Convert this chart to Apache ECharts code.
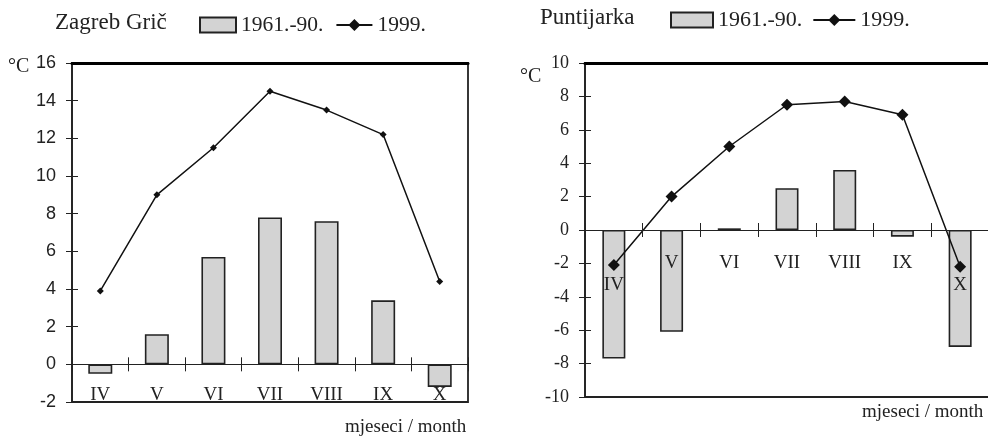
<!DOCTYPE html>
<html>
<head>
<meta charset="utf-8">
<script src="https://cdn.jsdelivr.net/npm/echarts@6/dist/echarts.min.js"></script>
<style>
  html, body { margin: 0; padding: 0; background: #fff; }
  #chart { width: 988px; height: 436px; }
</style>
</head>
<body>
<div id="chart"></div>
<script>
// months (Roman numerals as in the source)
const months = ['IV', 'V', 'VI', 'VII', 'VIII', 'IX', 'X'];

// Zagreb Grič
const gricNormal = [-0.5, 1.6, 5.7, 7.8, 7.6, 3.4, -1.2];   // 1961.-90.
const gric1999 = [3.9, 9.0, 11.5, 14.5, 13.5, 12.2, 4.4];

// Puntijarka
const puntNormal = [-7.7, -6.1, 0.1, 2.5, 3.6, -0.4, -7.0]; // 1961.-90.
const punt1999 = [-2.1, 2.0, 5.0, 7.5, 7.7, 6.9, -2.2];

const SERIF = 'Liberation Serif';
const SANS = 'Liberation Sans';
const INK = '#222';
const BAR_FILL = '#d3d3d3';

const chart = echarts.init(document.getElementById('chart'));

// builds one pair of y axes (outer ticks + labels, inner ticks only)
function yAxes(grid, min, max, font) {
  const base = {
    gridIndex: grid,
    type: 'value',
    position: 'left',
    min: min,
    max: max,
    interval: 2,
    splitLine: { show: false },
  };
  return [
    Object.assign({}, base, {
      axisLine: { show: true, lineStyle: { color: INK, width: 1.5 } },
      axisTick: { show: true, length: 6, lineStyle: { color: INK, width: 1 } },
      axisLabel: { margin: 16, color: INK, fontSize: 18, fontFamily: font },
    }),
    Object.assign({}, base, {
      axisLine: { show: false },
      axisTick: { show: true, inside: true, length: 6, lineStyle: { color: INK, width: 1 } },
      axisLabel: { show: false },
    }),
  ];
}

// x axes: line + ticks on the zero line, labels pulled up from the bottom edge,
// plus a bare top axis acting as the frame's upper edge
function xAxes(grid, margin, lowLabels) {
  const base = {
    gridIndex: grid,
    type: 'category',
    data: months,
    position: 'bottom',
    z: 10,
  };
  return [
    Object.assign({}, base, {
      axisLine: { show: true, onZero: true, lineStyle: { color: INK, width: 1.2 } },
      axisTick: { show: true, length: 7, lineStyle: { color: INK, width: 1 } },
      axisLabel: {
        interval: 0,
        hideOverlap: false,
        margin: margin,
        color: INK,
        fontSize: 19,
        fontFamily: SERIF,
        formatter: (v) => (lowLabels.indexOf(v) >= 0 ? '{low|' + v + '}' : v),
        rich: {
          low: { fontSize: 19, fontFamily: SERIF, color: INK, padding: [22, 0, 0, 0] },
        },
      },
    }),
    Object.assign({}, base, {
      axisLine: { show: false, onZero: true },
      axisTick: { show: true, inside: true, length: 7, lineStyle: { color: INK, width: 1 } },
      axisLabel: { show: false },
    }),
    Object.assign({}, base, {
      position: 'top',
      axisLine: { show: true, onZero: false, lineStyle: { color: '#000', width: 3 } },
      axisTick: { show: false },
      axisLabel: { show: false },
    }),
  ];
}

function barSeries(axisIdx, data, width) {
  return {
    name: '1961.-90.',
    type: 'bar',
    xAxisIndex: axisIdx,
    yAxisIndex: axisIdx === 0 ? 0 : 2,
    barWidth: width,
    data: data,
    itemStyle: { color: BAR_FILL, borderColor: INK, borderWidth: 1.6 },
  };
}

function lineSeries(axisIdx, data, size) {
  return {
    name: '1999.',
    type: 'line',
    xAxisIndex: axisIdx,
    yAxisIndex: axisIdx === 0 ? 0 : 2,
    data: data,
    symbol: 'diamond',
    symbolSize: size,
    z: 5,
    lineStyle: { color: '#111', width: 1.5 },
    itemStyle: { color: '#111' },
  };
}

const titleText = { color: INK, fontSize: 23, fontWeight: 'normal', fontFamily: SERIF };

const option = {
  backgroundColor: '#fff',
  animation: false,
  title: [
    { text: 'Zagreb Grič', left: 55, top: 11, padding: 0, textStyle: titleText },
    { text: 'Puntijarka', left: 540, top: 6, padding: 0, textStyle: titleText },
  ],
  legend: [
    {
      left: 199, top: 14, padding: 0,
      itemWidth: 36, itemHeight: 15, itemGap: 12,
      textStyle: { color: INK, fontSize: 21.5, fontFamily: SERIF },
      data: [{ name: '1961.-90.', icon: 'rect' }, { name: '1999.' }],
    },
    {
      left: 670, top: 9, padding: 0,
      itemWidth: 42, itemHeight: 15, itemGap: 10,
      textStyle: { color: INK, fontSize: 22, fontFamily: SERIF },
      data: [{ name: '1961.-90.', icon: 'rect' }, { name: '1999.' }],
    },
  ],
  grid: [
    { left: 72, top: 63, width: 396, height: 339, outerBoundsMode: 'none', containLabel: false,
      show: true, borderColor: INK, borderWidth: 1.8 },
    { left: 585, top: 63, width: 404, height: 334, outerBoundsMode: 'none', containLabel: false,
      show: true, borderColor: INK, borderWidth: 1.8 },
  ],
  // label top = bottom edge + margin (402 -> 386, 397 -> 254)
  xAxis: [].concat(xAxes(0, -16, []), xAxes(1, -143, ['IV', 'X'])),
  yAxis: [].concat(yAxes(0, -2, 16, SANS), yAxes(1, -10, 10, SERIF)),
  graphic: [
    { type: 'text', left: 8, top: 57, style: { text: '°C', font: '20px "Liberation Serif"', fill: INK } },
    { type: 'text', left: 520, top: 67, style: { text: '°C', font: '20px "Liberation Serif"', fill: INK } },
    { type: 'text', left: 345, top: 418, style: { text: 'mjeseci / month', font: '19px "Liberation Serif"', fill: INK } },
    { type: 'text', left: 862, top: 403, style: { text: 'mjeseci / month', font: '19px "Liberation Serif"', fill: INK } },
  ],
  series: [
    barSeries(0, gricNormal, 24),
    lineSeries(0, gric1999, 7),
    barSeries(3, puntNormal, 23),
    lineSeries(3, punt1999, 12),
  ],
};

chart.setOption(option);
</script>
</body>
</html>
